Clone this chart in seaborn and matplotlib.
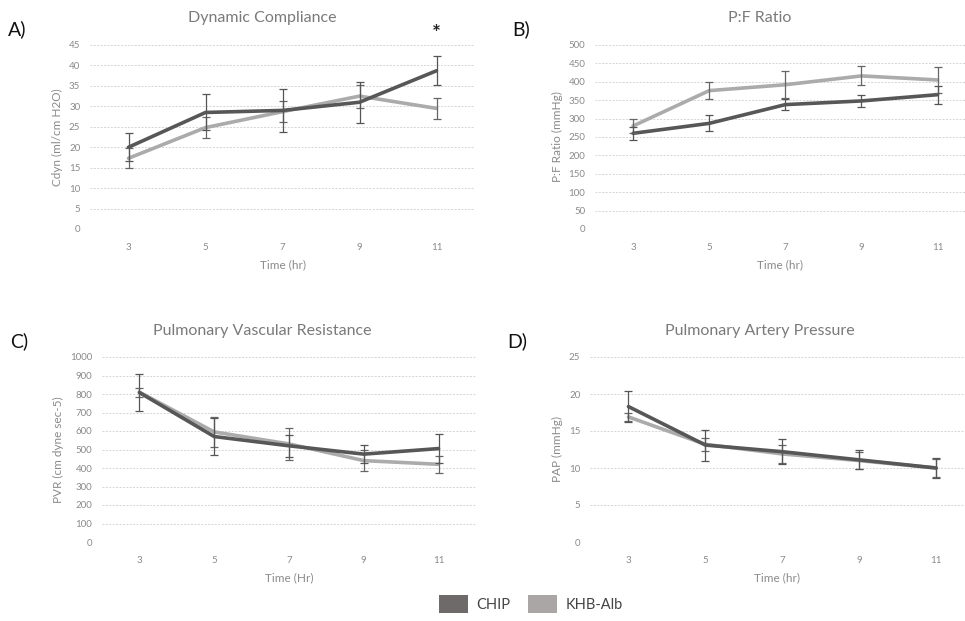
import numpy as np
import pandas as pd
import matplotlib
matplotlib.use("Agg")
import matplotlib.pyplot as plt
import seaborn as sns
from matplotlib.patches import Patch

sns.set_theme(style="white")
plt.rcParams['font.family'] = ['Lato', 'DejaVu Sans']

hours = [3, 5, 7, 9, 11]
groups = ["CHIP", "KHB-Alb"]

# A) Dynamic compliance
cdyn_chip = [20.0, 28.5, 29.0, 31.0, 38.7]
cdyn_chip_err = [3.4, 4.4, 5.3, 5.0, 3.6]
cdyn_khb = [17.3, 24.8, 28.7, 32.5, 29.5]
cdyn_khb_err = [2.5, 2.6, 2.6, 2.8, 2.6]

# B) P:F ratio
pf_chip = [260, 287, 338, 348, 365]
pf_chip_err = [17, 22, 14, 16, 24]
pf_khb = [280, 376, 392, 416, 405]
pf_khb_err = [20, 24, 37, 26, 36]

# C) PVR
pvr_chip = [808, 570, 520, 475, 505]
pvr_chip_err = [100, 100, 60, 50, 80]
pvr_khb = [810, 595, 530, 440, 420]
pvr_khb_err = [25, 80, 85, 55, 45]

# D) PAP
pap_chip = [18.3, 13.1, 12.2, 11.1, 10.0]
pap_chip_err = [2.1, 2.1, 1.7, 1.3, 1.3]
pap_khb = [16.9, 13.2, 11.9, 11.0, 10.0]
pap_khb_err = [0.6, 0.9, 1.2, 1.1, 1.2]

colors = {"CHIP": "#575757", "KHB-Alb": "#ababab"}
legend_colors = {"CHIP": "#6e6a6a", "KHB-Alb": "#aaa6a6"}

W, H = 965, 621
fig = plt.figure(figsize=(W / 100, H / 100), dpi=100)


def frac(l, t, r, b):
    return [l / W, 1 - b / H, (r - l) / W, (b - t) / H]


panels = [
    dict(rect=frac(90, 45, 475, 229), xlim=(2, 12), ylim=(0, 45), step=5,
         data=(cdyn_chip, cdyn_chip_err, cdyn_khb, cdyn_khb_err),
         title="Dynamic Compliance", ylabel="Cdyn (ml/cm H2O)", xlabel="Time (hr)",
         letter="A)", lpos=(8, 29), tpos=(262, 18)),
    dict(rect=frac(595, 45, 965, 229), xlim=(2, 11.72), ylim=(0, 500), step=50,
         data=(pf_chip, pf_chip_err, pf_khb, pf_khb_err),
         title="P:F Ratio", ylabel="P:F Ratio (mmHg)", xlabel="Time (hr)",
         letter="B)", lpos=(512, 29), tpos=(760, 18)),
    dict(rect=frac(102, 357, 476, 542), xlim=(2, 12), ylim=(0, 1000), step=100,
         data=(pvr_chip, pvr_chip_err, pvr_khb, pvr_khb_err),
         title="Pulmonary Vascular Resistance", ylabel="PVR (cm dyne sec-5)", xlabel="Time (Hr)",
         letter="C)", lpos=(10, 341), tpos=(262, 331)),
    dict(rect=frac(590, 357, 965, 542), xlim=(2, 11.75), ylim=(0, 25), step=5,
         data=(pap_chip, pap_chip_err, pap_khb, pap_khb_err),
         title="Pulmonary Artery Pressure", ylabel="PAP (mmHg)", xlabel="Time (hr)",
         letter="D)", lpos=(507, 341), tpos=(760, 331)),
]

axes = []
for p in panels:
    ax = fig.add_axes(p["rect"])
    axes.append(ax)
    c, ce, k, ke = p["data"]
    df = pd.DataFrame({
        "Time": hours * 2,
        "Value": list(c) + list(k),
        "Group": ["CHIP"] * 5 + ["KHB-Alb"] * 5,
    })
    sns.lineplot(data=df, x="Time", y="Value", hue="Group", hue_order=["KHB-Alb", "CHIP"],
                 palette=colors, linewidth=2.6, ax=ax, legend=False, zorder=3)
    ax.errorbar(hours, k, yerr=ke, fmt="none", ecolor="#666666", elinewidth=0.9,
                capsize=3, capthick=0.9, zorder=4)
    ax.errorbar(hours, c, yerr=ce, fmt="none", ecolor="#555555", elinewidth=0.9,
                capsize=3, capthick=0.9, zorder=4)
    ax.set_xlim(*p["xlim"])
    ax.set_ylim(*p["ylim"])
    ax.set_xticks(hours)
    ax.set_yticks(np.arange(p["ylim"][0], p["ylim"][1] + 0.01, p["step"]))
    ax.yaxis.grid(True, linestyle=(0, (2, 1.5)), color="#d4d4d4", linewidth=0.7)
    ax.xaxis.grid(False)
    for s in ax.spines.values():
        s.set_visible(False)
    ax.tick_params(axis="both", length=0, labelsize=7, labelcolor="#8a8a8a", pad=7)
    ax.tick_params(axis="x", pad=10)
    ax.set_xlabel(p["xlabel"], fontsize=8.5, color="#8a8a8a", labelpad=5)
    ax.set_ylabel(p["ylabel"], fontsize=8.5, color="#8a8a8a", labelpad=4)
    ax.set_facecolor("white")
    fig.text(p["tpos"][0] / W, 1 - p["tpos"][1] / H, p["title"], fontsize=11.5,
             color="#7a7a7a", ha="center", va="center")
    fig.text(p["lpos"][0] / W, 1 - p["lpos"][1] / H, p["letter"], fontsize=14,
             color="#111111", ha="left", va="center")

# significance marker
axes[0].text(11, 47.8, "*", fontsize=15, color="#222222", ha="center", va="center",
             fontweight="bold", clip_on=False)

# legend
handles = [Patch(facecolor=legend_colors[g], edgecolor="none", label=g) for g in groups]
fig.legend(handles=handles, loc="center", bbox_to_anchor=(531 / W, 1 - 604 / H), ncol=2,
           frameon=False, fontsize=10.5, handlelength=2.0, handleheight=1.6,
           columnspacing=1.2, handletextpad=0.6, labelcolor="#444444")

fig.savefig("out.png", dpi=100, facecolor="white")
